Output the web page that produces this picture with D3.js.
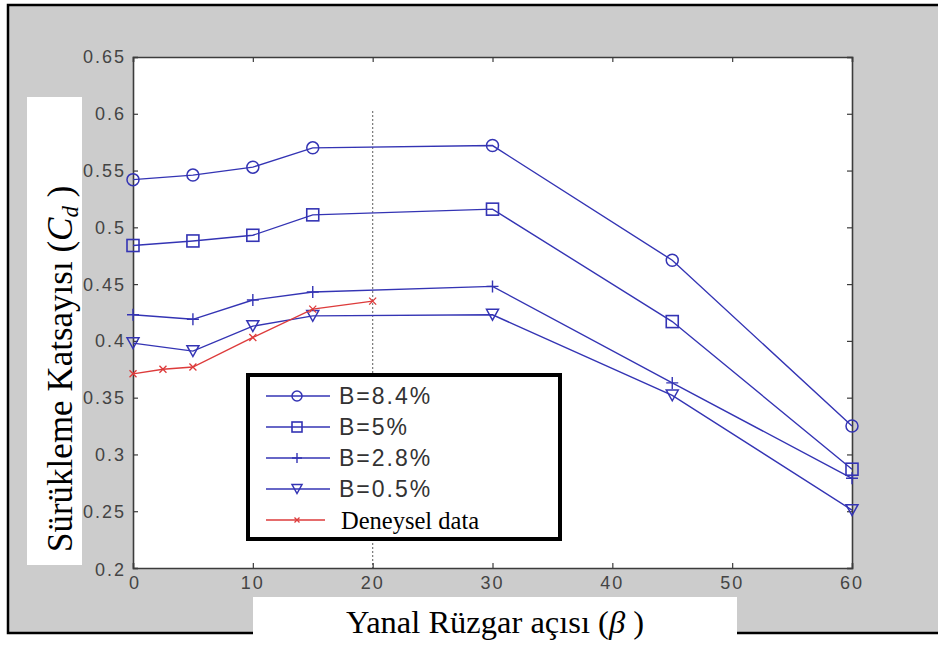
<!DOCTYPE html>
<html>
<head>
<meta charset="utf-8">
<script src="https://cdn.jsdelivr.net/npm/d3@7"></script>
<style>
  body { margin: 0; background: #fff; }
  svg { display: block; }
</style>
</head>
<body>
<svg id="chart" width="938" height="647"></svg>
<script>
// chart data
const angles = [0, 5, 10, 15, 30, 45, 60];
const b84 = [0.542, 0.546, 0.553, 0.570, 0.572, 0.471, 0.325];
const b5 = [0.484, 0.488, 0.493, 0.511, 0.516, 0.417, 0.287];
const b28 = [0.423, 0.419, 0.436, 0.443, 0.448, 0.363, 0.279];
const b05 = [0.398, 0.391, 0.413, 0.422, 0.423, 0.352, 0.251];
const expAngles = [0, 2.5, 5, 10, 15, 20];
const expValues = [0.371, 0.375, 0.377, 0.403, 0.428, 0.435];

const xTicks = [0, 10, 20, 30, 40, 50, 60];
const yTicks = [0.2, 0.25, 0.3, 0.35, 0.4, 0.45, 0.5, 0.55, 0.6, 0.65];
const seriesNames = ["B=8.4%", "B=5%", "B=2.8%", "B=0.5%", "Deneysel data"];
const markers = ["circle", "square", "plus", "triangle", "cross"];

const BLUE = "#3434b4";
const RED = "#dd3b3b";
const AXIS = "#3c3c3c";

const svg = d3.select("#chart");
const plot = {left: 133, right: 852, top: 57, bottom: 568};

const x = d3.scaleLinear().domain([0, 60]).range([plot.left, plot.right]);
const y = d3.scaleLinear().domain([0.2, 0.65]).range([plot.bottom, plot.top]);

// grey figure frame
svg.append("rect")
    .attr("x", 8).attr("y", 5)
    .attr("width", 940).attr("height", 628)
    .attr("fill", "#cccccc")
    .attr("stroke", "#000").attr("stroke-width", 2.5);

// plot area
svg.append("rect")
    .attr("x", plot.left).attr("y", plot.top)
    .attr("width", plot.right - plot.left).attr("height", plot.bottom - plot.top)
    .attr("fill", "#fff");

// dashed marker at 20 degrees
svg.append("line")
    .attr("x1", x(20)).attr("x2", x(20))
    .attr("y1", 111).attr("y2", plot.bottom)
    .attr("stroke", "#777").attr("stroke-width", 1.2)
    .attr("stroke-dasharray", "2,2");

// axes (matlab style box, ticks inside)
const tickLen = 5;
const xAxisB = d3.axisTop(x).tickValues(xTicks).tickSize(tickLen).tickFormat("");
const xAxisT = d3.axisBottom(x).tickValues(xTicks).tickSize(tickLen).tickFormat("");
const yAxisL = d3.axisRight(y).tickValues(yTicks).tickSize(tickLen).tickFormat("");
const yAxisR = d3.axisLeft(y).tickValues(yTicks).tickSize(tickLen).tickFormat("");

[
    [xAxisB, `translate(0,${plot.bottom})`],
    [xAxisT, `translate(0,${plot.top})`],
    [yAxisL, `translate(${plot.left},0)`],
    [yAxisR, `translate(${plot.right},0)`]
].forEach(([ax, tr]) => {
    const g = svg.append("g").attr("transform", tr).call(ax);
    g.select(".domain").attr("stroke", AXIS).attr("stroke-width", 1.6);
    g.selectAll(".tick line").attr("stroke", AXIS).attr("stroke-width", 1.2);
});

// tick labels
const tickFont = "'Liberation Sans', Arial, sans-serif";
svg.append("g").selectAll("text")
    .data(yTicks)
    .join("text")
    .attr("x", plot.left - 7)
    .attr("y", d => y(d) + (d === 0.2 ? 2 : 0))
    .attr("dy", "0.36em")
    .attr("text-anchor", "end")
    .attr("font-family", tickFont)
    .attr("font-size", 18)
    .attr("letter-spacing", 2)
    .attr("fill", "#444")
    .text(d => d3.format("")(d));

svg.append("g").selectAll("text")
    .data(xTicks)
    .join("text")
    .attr("x", d => x(d) + (d === 0 ? 2 : 0))
    .attr("y", plot.bottom + 21)
    .attr("text-anchor", "middle")
    .attr("font-family", tickFont)
    .attr("font-size", 18)
    .attr("letter-spacing", 2)
    .attr("fill", "#444")
    .text(d => d);

// marker symbols
function drawMarker(g, type, cx, cy, color, size) {
    const s = size;
    if (type === "circle") {
        g.append("circle").attr("cx", cx).attr("cy", cy).attr("r", s * 0.5)
            .attr("fill", "none").attr("stroke", color).attr("stroke-width", 1.5);
    } else if (type === "square") {
        g.append("rect").attr("x", cx - s / 2).attr("y", cy - s / 2)
            .attr("width", s).attr("height", s)
            .attr("fill", "none").attr("stroke", color).attr("stroke-width", 1.6);
    } else if (type === "triangle") {
        const h = s * 0.9;
        g.append("path")
            .attr("d", `M${cx - s / 2},${cy - h / 2}L${cx + s / 2},${cy - h / 2}L${cx},${cy + h / 2}Z`)
            .attr("fill", "none").attr("stroke", color).attr("stroke-width", 1.5);
    } else if (type === "plus") {
        g.append("path")
            .attr("d", `M${cx - s / 2},${cy}H${cx + s / 2}M${cx},${cy - s / 2}V${cy + s / 2}`)
            .attr("stroke", color).attr("stroke-width", 1.4);
    } else if (type === "cross") {
        const r = s / 2;
        g.append("path")
            .attr("d", `M${cx - r},${cy - r}L${cx + r},${cy + r}M${cx - r},${cy + r}L${cx + r},${cy - r}`)
            .attr("stroke", color).attr("stroke-width", 1.3);
    }
}

const line = d3.line().x(d => x(d[0])).y(d => y(d[1]));

const series = [
    {name: seriesNames[0], xs: angles, ys: b84, marker: markers[0], color: BLUE, size: 12},
    {name: seriesNames[1], xs: angles, ys: b5, marker: markers[1], color: BLUE, size: 12},
    {name: seriesNames[2], xs: angles, ys: b28, marker: markers[2], color: BLUE, size: 12},
    {name: seriesNames[3], xs: angles, ys: b05, marker: markers[3], color: BLUE, size: 12},
    {name: seriesNames[4], xs: expAngles, ys: expValues, marker: markers[4], color: RED, size: 7}
];

series.forEach(s => {
    const pts = s.xs.map((v, i) => [v, s.ys[i]]);
    const g = svg.append("g");
    g.append("path")
        .datum(pts)
        .attr("d", line)
        .attr("fill", "none")
        .attr("stroke", s.color)
        .attr("stroke-width", 1.4);
    pts.forEach(p => drawMarker(g, s.marker, x(p[0]), y(p[1]), s.color, s.size));
});

// legend
const legend = svg.append("g");
legend.append("rect")
    .attr("x", 248).attr("y", 375)
    .attr("width", 312).attr("height", 164)
    .attr("fill", "#fff")
    .attr("stroke", "#000").attr("stroke-width", 4);

series.forEach((s, i) => {
    const ly = 396 + i * 31;
    const isExp = i === 4;
    legend.append("line")
        .attr("x1", 266).attr("x2", isExp ? 325 : 330)
        .attr("y1", ly).attr("y2", ly)
        .attr("stroke", s.color).attr("stroke-width", 1.5);
    drawMarker(legend, s.marker, 297, ly, s.color, isExp ? 5 : 10);
    legend.append("text")
        .attr("x", isExp ? 341 : 339)
        .attr("y", ly)
        .attr("dy", "0.36em")
        .attr("font-family", isExp ? "'Liberation Serif', 'Times New Roman', serif" : tickFont)
        .attr("font-size", isExp ? 24.5 : 23)
        .attr("letter-spacing", isExp ? 0 : 2)
        .attr("fill", isExp ? "#000" : "#333")
        .text(s.name);
});

// axis titles on white patches
const serif = "'Liberation Serif', 'Times New Roman', serif";
svg.append("rect")
    .attr("x", 253).attr("y", 597).attr("width", 484).attr("height", 50)
    .attr("fill", "#fff");
const xt = svg.append("text")
    .attr("x", 495).attr("y", 633)
    .attr("text-anchor", "middle")
    .attr("font-family", serif)
    .attr("font-size", 32.5)
    .attr("fill", "#000");
xt.append("tspan").text("Yanal Rüzgar açısı (");
xt.append("tspan").attr("font-style", "italic").text("β");
xt.append("tspan").text(" )");

svg.append("rect")
    .attr("x", 27).attr("y", 97).attr("width", 55).attr("height", 468)
    .attr("fill", "#fff");
const yt = svg.append("text")
    .attr("transform", "translate(72,552) rotate(-90)")
    .attr("text-anchor", "start")
    .attr("font-family", serif)
    .attr("font-size", 35)
    .attr("fill", "#000");
yt.append("tspan").text("Sürükleme Katsayısı (");
yt.append("tspan").attr("font-style", "italic").text("C");
yt.append("tspan").attr("font-style", "italic").attr("font-size", 23).attr("dy", 6).text("d");
yt.append("tspan").attr("dy", -6).text(" )");
</script>
</body>
</html>
